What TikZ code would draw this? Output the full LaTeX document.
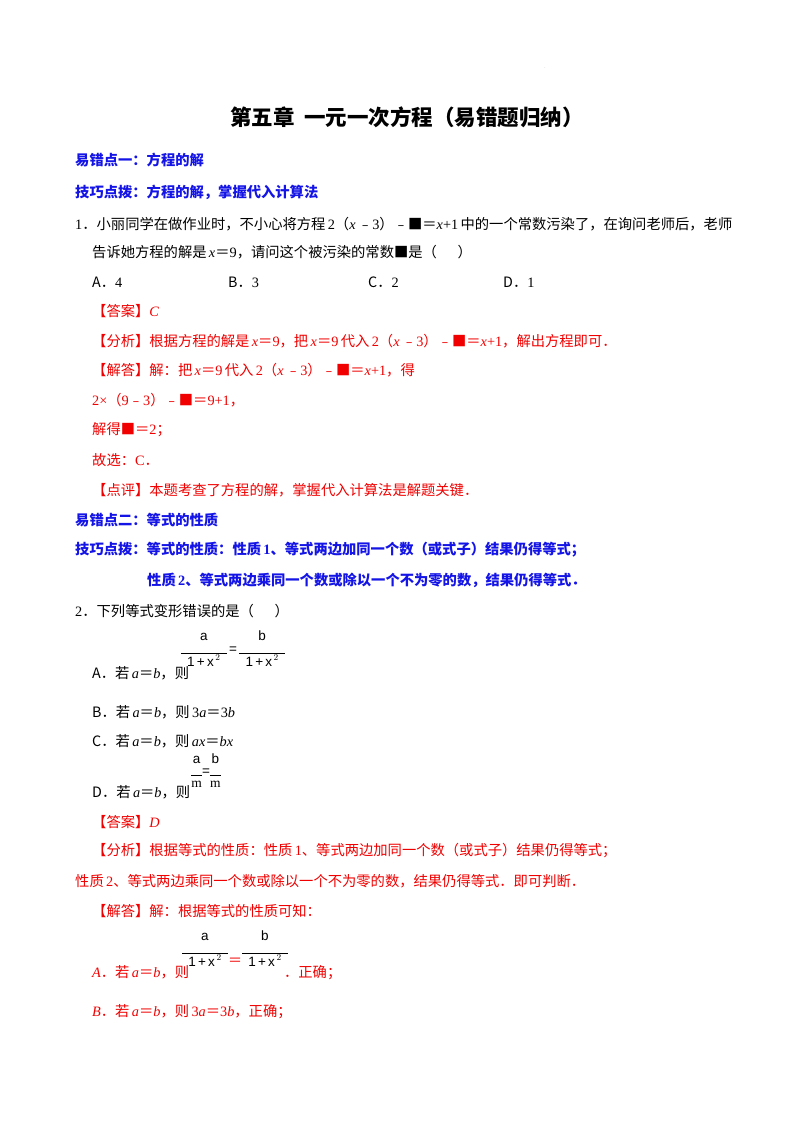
\documentclass[tikz,border=0pt]{standalone}
\usepackage{fontspec}
\setmainfont{Noto Sans CJK SC}
\newfontfamily\tm{Liberation Serif}
\newfontfamily\ar{Liberation Sans}
\newcommand{\mv}[1]{{\tm\itshape #1}}
\newcommand{\mn}[1]{{\tm #1}}
\definecolor{tipblue}{RGB}{20,20,230}
\definecolor{ansred}{RGB}{240,0,0}
\tikzset{
 ln/.style={anchor=west,inner sep=0pt,font=\fontsize{14.3}{17}\selectfont},
 hd/.style={ln,text=tipblue,font=\fontsize{14.3}{17}\selectfont\bfseries},
 rd/.style={ln,text=ansred},
 fr/.style={inner sep=0pt,font=\ar\fontsize{13.5}{16}\selectfont}
}
\newcommand{\bigfrac}[2]{\begin{tabular}{@{}c@{}}#1\\[-3pt]\rule{46pt}{0.6pt}\\[-3pt]#2\end{tabular}}
\newcommand{\xx}{1\,+\,x$^{\,2}$}
\begin{document}
\begin{tikzpicture}[x=1pt,y=-1pt]
\useasboundingbox (0,0) rectangle (800,1132);
\node[inner sep=0pt,font=\fontsize{3}{3}\selectfont] (dot) at (545,68) {.};
\node[inner sep=0pt,font=\fontsize{21.5}{25}\selectfont\bfseries] (title) at (407,117) {第五章\ \ 一元一次方程（易错题归纳）};
\node[hd] (h1) at (75,160) {易错点一：方程的解};
\node[hd] (t1) at (75,192) {技巧点拨：方程的解，掌握代入计算法};
\node[ln] (q1) at (75,224) {\mn{1}．小丽同学在做作业时，不小心将方程\,\mn{2}（\mv{x}\,﹣\mn{3}）﹣■＝\mv{x}\mn{+1}\,中的一个常数污染了，在询问老师后，老师};
\node[ln] (q1b) at (92,252) {告诉她方程的解是\,\mv{x}＝\mn{9}，请问这个被污染的常数■是（\quad\ \ ）};
\node[ln] (oA) at (92,282) {A．\mn{4}};
\node[ln] (oB) at (228,282) {B．\mn{3}};
\node[ln] (oC) at (368,282) {C．\mn{2}};
\node[ln] (oD) at (503,282) {D．\mn{1}};
\node[rd] (a1) at (92,311) {【答案】\mv{C}};
\node[rd] (f1) at (92,341) {【分析】根据方程的解是\,\mv{x}＝\mn{9}，把\,\mv{x}＝\mn{9}\,代入\,\mn{2}（\mv{x}\,﹣\mn{3}）﹣■＝\mv{x}\mn{+1}，解出方程即可．};
\node[rd] (s1) at (92,370) {【解答】解：把\,\mv{x}＝\mn{9}\,代入\,\mn{2}（\mv{x}\,﹣\mn{3}）﹣■＝\mv{x}\mn{+1}，得};
\node[rd] (s2) at (92,400) {\mn{2×}（\mn{9}﹣\mn{3}）﹣■＝\mn{9+1}，};
\node[rd] (s3) at (92,430) {解得■＝\mn{2}；};
\node[rd] (s4) at (92,460) {故选：\mn{C}．};
\node[rd] (p1) at (92,490) {【点评】本题考查了方程的解，掌握代入计算法是解题关键．};
\node[hd] (h2) at (75,520) {易错点二：等式的性质};
\node[hd] (t2) at (75,550) {技巧点拨：等式的性质：性质\,\mn{1}、等式两边加同一个数（或式子）结果仍得等式；};
\node[hd] (t2b) at (147,580) {性质\,\mn{2}、等式两边乘同一个数或除以一个不为零的数，结果仍得等式．};
\node[ln] (q2) at (75,611) {\mn{2}．下列等式变形错误的是（\quad\ \ ）};
\node[fr] (fA) at (233,650) {\bigfrac{a}{\xx}\,=\,\bigfrac{b}{\xx}};
\node[ln] (qA) at (92,673) {A．若\,\mv{a}＝\mv{b}，则};
\node[ln] (qB) at (92,712) {B．若\,\mv{a}＝\mv{b}，则\,\mn{3}\mv{a}＝\mn{3}\mv{b}};
\node[ln] (qC) at (92,741) {C．若\,\mv{a}＝\mv{b}，则\,\mv{ax}＝\mv{bx}};
\node[fr] (fD) at (206,772) {\begin{tabular}{@{}c@{}}a\\[-4pt]\rule{11pt}{0.6pt}\\[-4pt]{\tm m}\end{tabular}=\begin{tabular}{@{}c@{}}b\\[-4pt]\rule{11pt}{0.6pt}\\[-4pt]{\tm m}\end{tabular}};
\node[ln] (qD) at (92,792) {D．若\,\mv{a}＝\mv{b}，则};
\node[rd] (a2) at (92,822) {【答案】\mv{D}};
\node[rd] (f2) at (92,851) {【分析】根据等式的性质：性质\,\mn{1}、等式两边加同一个数（或式子）结果仍得等式；};
\node[rd] (f2b) at (75,881) {性质\,\mn{2}、等式两边乘同一个数或除以一个不为零的数，结果仍得等式．即可判断．};
\node[rd] (s5) at (92,911) {【解答】解：根据等式的性质可知：};
\node[fr] (fA2) at (235,950) {\bigfrac{a}{\xx}\raisebox{-12pt}{\rmfamily\color{ansred}\fontsize{14}{16}\selectfont ＝}\bigfrac{b}{\xx}};
\node[rd] (rA) at (92,973) {\mv{A}．若\,\mv{a}＝\mv{b}，则\hspace{95pt}．正确；};
\node[rd] (rB) at (92,1012) {\mv{B}．若\,\mv{a}＝\mv{b}，则\,\mn{3}\mv{a}＝\mn{3}\mv{b}，正确；};
\end{tikzpicture}
\end{document}
